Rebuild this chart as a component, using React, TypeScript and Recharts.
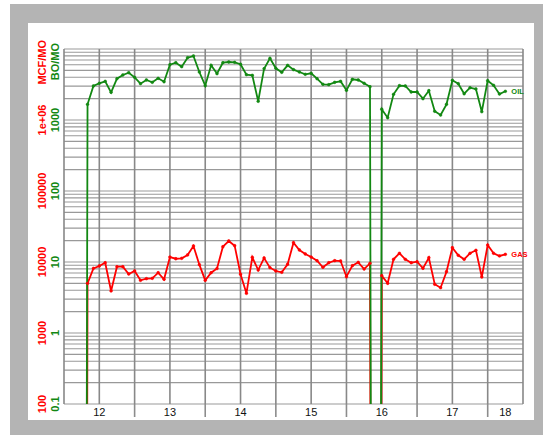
import React from 'react';
import {
  LineChart,
  Line,
  XAxis,
  YAxis,
  CartesianGrid,
  ReferenceDot,
} from 'recharts';

// Monthly production starting Jan 2012 (index 0). 0 = no production.
const oilBOPerMonth = [
  0, 0, 0, 0, 1663, 3013, 3289, 3508, 2455, 3819,
  4302, 4637, 3994, 3246, 3660, 3396, 3865, 3459, 6012, 6412,
  5636, 7538, 7966, 4745, 3043, 5890, 4498, 6412, 6561, 6500,
  6095, 4345, 4262, 1834, 5280, 7400, 5346, 4698, 5890, 5117,
  4745, 4403, 4550, 3819, 3184, 3142, 3396, 3508, 2618, 3745,
  3660, 3289, 2944, 0, 1416, 1077, 2301, 3043, 3013, 2479,
  2479, 1996, 2588, 1327, 1175, 1663, 3622, 3246, 2344, 2851,
  2733, 1309, 3578, 3083, 2323, 2536,
];

const gasMCFPerMonth = [
  0, 0, 0, 0, 5012, 8147, 8790, 9772, 3908, 8590,
  8590, 6776, 7464, 5521, 5821, 5890, 7063, 5702, 11750, 11120,
  11270, 12560, 16790, 9170, 5521, 7063, 8090, 16410, 19770, 16980,
  6714, 3622, 11640, 7709, 11380, 8318, 7464, 7161, 9290, 18710,
  14760, 12970, 11750, 10430, 8420, 9772, 10430, 10330, 6209, 8872,
  9908, 7962, 9594, 0, 6412, 5012, 10910, 13270, 10910, 9772,
  10100, 8147, 11500, 4853, 4345, 7300, 15890, 12420, 10910, 13270,
  14620, 6150, 17340, 13270, 12160, 12820,
];

// x axis (months since Jan 2012)
const xDomain = [0, 78];
const gridMonths = [0, 6, 12, 18, 24, 30, 36, 42, 48, 54, 60, 66, 72, 78];
const yearBoundaryMonths = [12, 24, 36, 48, 60, 72];
const yearLabelMonths = [6, 18, 30, 42, 54, 66, 75];
const yearLabels = ['12', '13', '14', '15', '16', '17', '18'];

// y axes (log)
const oilDomain = [0.1, 10000];
const gasDomain = [100, 10000000];
const oilDecades = [0.1, 1, 10, 100, 1000, 10000];
const oilTickLabels = ['0.1', '1', '10', '100', '1000', 'BO/MO'];
const gasTickLabels = ['100', '1000', '10000', '100000', '1e+06', 'MCF/MO'];
const minorMultipliers = [1, 2, 3, 4, 5, 6, 7, 8, 9];

const GREEN = '#128812';
const RED = '#ff0000';
const FONT = '"Liberation Sans", Arial, Helvetica, sans-serif';
const Y_AXIS_WIDTH = 36;

const horizontalGridValues: number[] = [];
oilDecades.slice(0, -1).forEach((d) => {
  minorMultipliers.forEach((k) => horizontalGridValues.push(d * k));
});
horizontalGridValues.push(oilDecades[oilDecades.length - 1]);

const TINY = 1e-30; // stands in for zero on the log scale
const data = oilBOPerMonth.map((v, i) => ({
  m: i,
  oil: v > 0 ? v : TINY,
  gas: gasMCFPerMonth[i] > 0 ? gasMCFPerMonth[i] : TINY,
}));

const xTicks = [...yearLabelMonths, ...yearBoundaryMonths].sort((a, b) => a - b);

const XTick = (props: any) => {
  const { x, y, payload } = props;
  const m = payload.value;
  const bi = yearBoundaryMonths.indexOf(m);
  if (bi >= 0) {
    return <line x1={x} x2={x} y1={y} y2={y + 13} stroke="#8c8c8c" strokeWidth={1.6} />;
  }
  const li = yearLabelMonths.indexOf(m);
  if (li < 0) return null;
  return (
    <text x={x} y={y + 12} textAnchor="middle" fontSize={11} fontFamily={FONT} fill="#111">
      {yearLabels[li]}
    </text>
  );
};

const YTick = (props: any) => {
  const { payload } = props;
  const y = Number(props.y);
  const v = Number(payload && payload.value);
  const idx = oilDecades.findIndex((d) => Math.abs(d - v) / d < 1e-6);
  if (idx < 0 || !Number.isFinite(y)) return null;
  const isTop = idx === oilDecades.length - 1;
  const gx = Y_AXIS_WIDTH - 5.5;
  const rx = Y_AXIS_WIDTH - 18;
  const gy = isTop ? y - 6 : y;
  const ry = isTop ? y - 9 : y;
  const anchor = isTop ? 'end' : 'middle';
  return (
    <g>
      <text
        x={rx}
        y={ry}
        transform={`rotate(-90 ${rx} ${ry})`}
        textAnchor={anchor}
        fontSize={11}
        fontWeight="bold"
        fontFamily={FONT}
        fill={RED}
      >
        {gasTickLabels[idx]}
      </text>
      <text
        x={gx}
        y={gy}
        transform={`rotate(-90 ${gx} ${gy})`}
        textAnchor={anchor}
        fontSize={11}
        fontWeight="bold"
        fontFamily={FONT}
        fill={GREEN}
      >
        {oilTickLabels[idx]}
      </text>
    </g>
  );
};

const lastIndex = oilBOPerMonth.length - 1;

export default function App() {
  return (
    <div
      style={{
        position: 'absolute',
        left: 10,
        top: 4,
        width: 533,
        height: 431,
        background: '#b4b4b4',
      }}
    >
      <div
        style={{
          position: 'absolute',
          left: 18,
          top: 19,
          width: 506,
          height: 397,
          background: '#ffffff',
        }}
      >
        <LineChart
          width={506}
          height={397}
          data={data}
          margin={{ top: 26, right: 11, bottom: 0, left: 0 }}
        >
          <XAxis
            xAxisId="x"
            dataKey="m"
            type="number"
            domain={xDomain}
            ticks={xTicks}
            interval={0}
            height={16}
            tickSize={0}
            tickMargin={0}
            axisLine={false}
            tickLine={false}
            tick={<XTick />}
          />
          <YAxis
            yAxisId="oil"
            scale="log"
            domain={oilDomain}
            allowDataOverflow
            ticks={oilDecades}
            interval={0}
            width={Y_AXIS_WIDTH}
            tickSize={0}
            tickMargin={0}
            axisLine={false}
            tickLine={false}
            tick={<YTick />}
          />
          <YAxis
            yAxisId="gas"
            scale="log"
            domain={gasDomain}
            allowDataOverflow
            hide
          />
          <CartesianGrid
            xAxisId="x"
            yAxisId="oil"
            vertical={false}
            horizontalValues={horizontalGridValues}
            stroke="#999999"
            strokeWidth={1.2}
          />
          <CartesianGrid
            xAxisId="x"
            yAxisId="oil"
            horizontal={false}
            verticalValues={gridMonths}
            stroke="#888888"
            strokeWidth={1.6}
          />
          <Line
            xAxisId="x"
            yAxisId="gas"
            dataKey="gas"
            type="linear"
            stroke={RED}
            strokeWidth={1.8}
            dot={{ r: 1.4, fill: RED, stroke: RED, strokeWidth: 0.5 }}
            isAnimationActive={false}
          />
          <Line
            xAxisId="x"
            yAxisId="oil"
            dataKey="oil"
            type="linear"
            stroke={GREEN}
            strokeWidth={1.8}
            dot={{ r: 1.4, fill: GREEN, stroke: GREEN, strokeWidth: 0.5 }}
            isAnimationActive={false}
          />
          <ReferenceDot
            xAxisId="x"
            yAxisId="oil"
            x={lastIndex}
            y={oilBOPerMonth[lastIndex]}
            r={0}
            stroke="none"
            fill="none"
            label={{
              value: 'OIL',
              position: 'right',
              offset: 6,
              fill: GREEN,
              fontSize: 7.5,
              fontWeight: 'bold',
              fontFamily: FONT,
            }}
          />
          <ReferenceDot
            xAxisId="x"
            yAxisId="gas"
            x={lastIndex}
            y={gasMCFPerMonth[lastIndex]}
            r={0}
            stroke="none"
            fill="none"
            label={{
              value: 'GAS',
              position: 'right',
              offset: 6,
              fill: RED,
              fontSize: 7.5,
              fontWeight: 'bold',
              fontFamily: FONT,
            }}
          />
        </LineChart>
      </div>
    </div>
  );
}
